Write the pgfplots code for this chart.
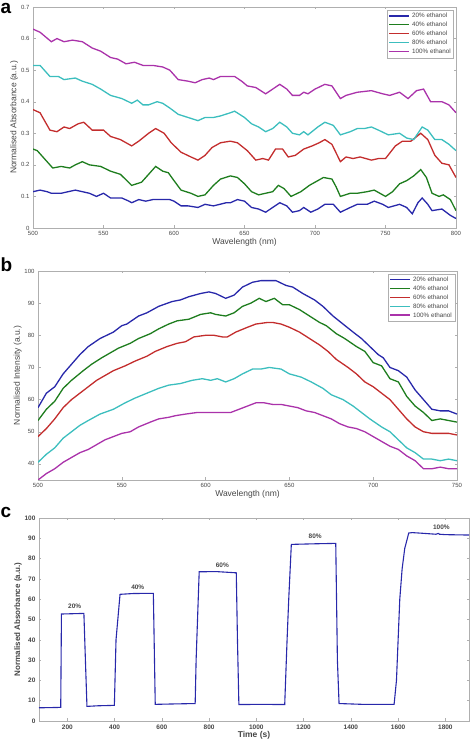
\documentclass[border=0pt]{standalone}
\usepackage{pgfplots}
\pgfplotsset{compat=1.18}
\usepackage{fontspec}
\setmainfont{Liberation Sans}
\definecolor{cB}{RGB}{40,40,170}
\definecolor{cG}{RGB}{30,125,30}
\definecolor{cR}{RGB}{195,45,45}
\definecolor{cC}{RGB}{60,190,190}
\definecolor{cM}{RGB}{170,50,170}
\definecolor{axg}{RGB}{175,175,175}
\definecolor{txg}{RGB}{70,70,70}
\pgfplotsset{
  base/.style={
    scale only axis,
    axis line style={axg},
    tick style={axg, thin},
    major tick length=2.5pt,
    tick align=inside,
    xtick pos=both, ytick pos=both,
    /pgf/number format/assume math mode=true,
    /pgf/number format/1000 sep={},
    tick label style={font=\fontsize{6}{7}\selectfont, text=txg},
    label style={font=\fontsize{8.5}{10}\selectfont, text=txg},
    every axis plot/.append style={line width=1.3pt},
    legend cell align=left,
    legend style={font=\fontsize{6.3}{7}\selectfont, draw=axg, inner sep=1pt, row sep=-1.2pt, text=txg},
    legend image code/.code={\draw[#1, line width=1.5pt] (0pt,0.5pt) -- (20pt,0.5pt);},
  }
}
\begin{document}
\begin{tikzpicture}[x=1pt,y=1pt]
\useasboundingbox (0,0) rectangle (472,741);
% ---------------- panel a
\begin{axis}[base, at={(33pt,513pt)}, anchor=south west, width=423pt, height=221pt,
  xmin=500, xmax=800, ymin=0, ymax=0.7,
  xtick={500,550,...,800}, ytick={0,0.1,...,0.7},
  yticklabel style={/pgf/number format/fixed, /pgf/number format/precision=1},
  xlabel={Wavelength (nm)}, ylabel={Normalised Absorbance (a.u.)},
  xlabel style={yshift=4pt}, ylabel style={yshift=-4pt},
  legend style={at={(0.995,0.986)}, anchor=north east}]
\addplot[cB] coordinates {(500,0.115)(505,0.12)(510,0.115)(513,0.11)(520,0.11)(525,0.115)(530,0.12)(535,0.115)(540,0.11)(545,0.10)(550,0.11)(555,0.095)(563,0.095)(568,0.085)(570,0.08)(575,0.09)(580,0.085)(585,0.09)(597,0.09)(600,0.085)(605,0.07)(610,0.07)(617,0.065)(622,0.075)(628,0.07)(637,0.08)(640,0.08)(645,0.09)(650,0.085)(655,0.065)(660,0.06)(665,0.05)(670,0.065)(675,0.08)(680,0.07)(684,0.05)(689,0.055)(692,0.065)(697,0.05)(702,0.06)(707,0.075)(713,0.075)(718,0.05)(725,0.065)(730,0.075)(737,0.075)(742,0.085)(748,0.075)(752,0.065)(760,0.075)(765,0.065)(769,0.045)(773,0.08)(776,0.095)(780,0.075)(783,0.055)(790,0.06)(796,0.04)(800,0.03)};
\addlegendentry{20\% ethanol}
\addplot[cG] coordinates {(500,0.25)(503,0.245)(510,0.21)(514,0.19)(520,0.195)(526,0.19)(530,0.20)(535,0.21)(540,0.20)(548,0.195)(555,0.18)(562,0.17)(570,0.135)(577,0.145)(582,0.17)(587,0.195)(592,0.18)(596,0.175)(600,0.15)(605,0.12)(612,0.11)(617,0.10)(622,0.105)(628,0.135)(633,0.155)(640,0.165)(645,0.16)(650,0.14)(655,0.115)(660,0.105)(665,0.11)(670,0.115)(674,0.135)(678,0.125)(683,0.10)(690,0.115)(696,0.135)(702,0.15)(706,0.16)(712,0.155)(715,0.13)(718,0.10)(725,0.11)(730,0.11)(737,0.115)(742,0.12)(750,0.10)(755,0.115)(760,0.14)(765,0.15)(770,0.165)(775,0.185)(779,0.16)(783,0.11)(788,0.10)(791,0.105)(796,0.09)(800,0.055)};
\addlegendentry{40\% ethanol}
\addplot[cR] coordinates {(500,0.375)(505,0.365)(512,0.31)(517,0.305)(522,0.32)(526,0.315)(532,0.33)(536,0.335)(542,0.31)(550,0.31)(555,0.29)(562,0.28)(570,0.26)(575,0.275)(582,0.30)(587,0.315)(593,0.30)(598,0.27)(605,0.24)(612,0.225)(617,0.215)(622,0.23)(627,0.255)(633,0.27)(640,0.275)(645,0.27)(652,0.245)(658,0.215)(663,0.22)(667,0.215)(672,0.25)(677,0.25)(681,0.225)(686,0.23)(692,0.25)(698,0.26)(703,0.27)(707,0.28)(712,0.265)(718,0.21)(722,0.225)(727,0.22)(732,0.225)(740,0.215)(745,0.22)(750,0.22)(757,0.26)(762,0.275)(768,0.275)(775,0.30)(780,0.28)(785,0.23)(790,0.205)(795,0.20)(800,0.16)};
\addlegendentry{60\% ethanol}
\addplot[cC] coordinates {(500,0.515)(505,0.515)(512,0.48)(518,0.48)(522,0.47)(530,0.475)(535,0.465)(542,0.455)(548,0.44)(555,0.42)(563,0.41)(570,0.395)(574,0.405)(578,0.39)(582,0.39)(588,0.40)(592,0.395)(597,0.38)(603,0.36)(610,0.35)(617,0.34)(622,0.35)(628,0.35)(633,0.355)(640,0.365)(643,0.37)(650,0.35)(655,0.33)(660,0.32)(665,0.305)(670,0.315)(675,0.335)(680,0.32)(684,0.30)(689,0.295)(692,0.305)(695,0.295)(702,0.32)(707,0.335)(713,0.325)(718,0.295)(725,0.305)(730,0.315)(735,0.315)(740,0.32)(745,0.31)(752,0.295)(760,0.30)(765,0.285)(770,0.28)(776,0.32)(780,0.31)(785,0.28)(790,0.28)(795,0.265)(800,0.245)};
\addlegendentry{80\% ethanol}
\addplot[cM] coordinates {(500,0.63)(505,0.62)(513,0.59)(517,0.60)(522,0.59)(528,0.595)(535,0.59)(542,0.57)(548,0.56)(555,0.54)(560,0.535)(566,0.52)(572,0.525)(578,0.515)(585,0.515)(592,0.51)(597,0.50)(603,0.47)(610,0.465)(615,0.46)(620,0.47)(625,0.475)(628,0.47)(633,0.48)(643,0.48)(648,0.465)(652,0.45)(658,0.445)(665,0.425)(670,0.44)(675,0.455)(680,0.44)(684,0.42)(689,0.42)(692,0.43)(695,0.425)(700,0.44)(707,0.455)(712,0.45)(718,0.41)(722,0.42)(730,0.43)(740,0.435)(748,0.425)(753,0.42)(760,0.43)(766,0.41)(772,0.435)(777,0.44)(782,0.40)(790,0.40)(795,0.39)(800,0.365)};
\addlegendentry{100\% ethanol}
\end{axis}
% ---------------- panel b
\begin{axis}[base, at={(38pt,261pt)}, anchor=south west, width=419pt, height=209pt,
  xmin=500, xmax=750, ymin=35, ymax=100,
  xtick={500,550,...,750}, ytick={40,50,...,100},
  xlabel={Wavelength (nm)}, ylabel={Normalised Intensity (a.u.)},
  xlabel style={yshift=4pt}, ylabel style={yshift=-4pt},
  legend style={at={(0.995,0.986)}, anchor=north east}]
\addplot[cB] coordinates {(500,57.5)(505,62)(510,64)(515,68)(520,71)(525,74)(530,76.5)(537,79)(545,81)(550,83)(553,83.5)(560,86)(565,87)(572,89)(580,90.5)(585,91)(590,92)(597,93)(602,93.5)(606,93)(612,91.5)(617,92.5)(622,95)(628,96.5)(633,97)(638,97)(642,97)(648,95.5)(652,95)(658,93)(665,91)(670,89)(676,86)(682,83.5)(688,81)(693,79)(698,76.5)(703,74)(706,73)(710,70)(715,69)(720,67)(725,63)(730,60)(735,57)(740,56.5)(745,56.5)(750,55.5)};
\addlegendentry{20\% ethanol}
\addplot[cG] coordinates {(500,53.5)(505,57)(510,59.5)(515,63.5)(520,66)(527,69)(532,71)(538,73)(543,74.5)(548,76)(555,77.5)(560,79)(567,80.5)(572,82)(578,83.5)(583,84.5)(590,85)(597,86.5)(603,87)(606,86.5)(612,86)(617,87)(622,89)(627,90)(632,91.5)(636,90.5)(641,91.5)(646,89.5)(650,89.5)(656,88)(662,86)(668,84)(672,83)(678,80.5)(683,79)(690,76.5)(695,75)(700,71.5)(705,70.5)(710,66.5)(715,65.5)(720,61)(725,58)(730,56)(735,53.5)(740,54)(745,53.5)(750,53)};
\addlegendentry{40\% ethanol}
\addplot[cR] coordinates {(500,48.5)(505,51)(510,54)(515,57.5)(520,60)(525,62)(530,64)(535,66)(540,67.5)(545,69)(552,70.5)(558,72)(565,73.5)(570,75)(577,76.5)(583,77.5)(588,78)(593,79.5)(600,80)(605,80)(610,79.5)(613,79.5)(618,81)(625,82.5)(630,83.5)(637,84)(640,84)(645,83.5)(650,82.5)(656,81)(662,79)(668,77)(673,75)(678,72.5)(685,70)(690,68)(695,65.5)(700,64)(705,62)(710,60)(715,57)(720,54)(725,51.5)(730,50)(735,49.5)(740,49.5)(745,49.5)(750,49)};
\addlegendentry{60\% ethanol}
\addplot[cC] coordinates {(500,40.5)(505,43)(510,45)(515,48)(520,50)(525,52)(530,53.5)(537,55.5)(545,57)(552,59)(558,60.5)(565,62)(572,63.5)(578,64.5)(585,65)(592,66)(598,66.5)(603,66)(607,66.5)(612,65.5)(617,66.5)(622,68)(628,69.5)(633,69.5)(638,70)(645,69.5)(650,68)(657,67)(663,65.5)(670,63.5)(675,61.5)(682,60)(688,58)(693,56)(698,54)(705,51.5)(710,50)(715,47.5)(720,45)(725,43.5)(730,41.5)(735,41.5)(740,41)(745,41.5)(750,41)};
\addlegendentry{80\% ethanol}
\addplot[cM] coordinates {(500,35)(505,37)(510,38.5)(515,40.5)(520,42)(525,43.5)(530,44.5)(535,46)(540,47.5)(545,48.5)(550,49.5)(555,50)(560,51.5)(567,53)(572,54)(578,54.5)(582,55)(588,55.5)(595,56)(600,56)(605,56)(610,56)(615,56)(620,57)(625,58)(630,59)(635,59)(640,58.5)(645,58.5)(650,58)(655,57.5)(660,56.5)(665,56)(670,55)(675,54)(680,52.5)(685,51.5)(690,51)(695,50)(700,48.5)(705,47)(710,45.5)(715,44.5)(720,42.5)(725,41)(730,38.5)(735,38.5)(740,39)(745,38.5)(750,38.5)};
\addlegendentry{100\% ethanol}
\end{axis}
% ---------------- panel c
\begin{axis}[base, at={(39pt,20pt)}, anchor=south west, width=430pt, height=203pt,
  xmin=80, xmax=1900, ymin=0, ymax=100,
  xtick={200,400,...,1800}, ytick={0,10,...,100},
  tick label style={font=\bfseries\fontsize{6.5}{7}\selectfont, text=txg},
  xlabel={\bfseries Time (s)}, ylabel={\bfseries Normalised Absorbance (a.u.)},
  xlabel style={yshift=5pt, font=\fontsize{8.5}{10}\selectfont},
  ylabel style={yshift=-4pt, font=\fontsize{8}{10}\selectfont}]
\addplot[cB, line width=1.1pt] coordinates {(80,6.5)(172,6.7)(175,52.7)(270,53)(277,28)(283,7.2)(330,7.5)(399,7.7)(406,40)(423,62.4)(480,62.8)(564,62.9)(572,8.2)(650,8.4)(741,8.6)(745,30)(758,73.5)(830,73.6)(915,73)(920,40)(926,8.1)(1020,8.2)(1120,8.1)(1130,40)(1137,60)(1148,87)(1250,87.3)(1336,87.5)(1343,30)(1350,8.6)(1450,8.2)(1583,8.2)(1593,20)(1607,60)(1617,75)(1628,85)(1645,92.6)(1660,92.8)(1700,92.5)(1760,92)(1770,92.4)(1775,92)(1800,91.8)(1900,91.6)};
\node[font=\bfseries\fontsize{6.5}{7}\selectfont, text=txg] at (axis cs:231,56.5) {20\%};
\node[font=\bfseries\fontsize{6.5}{7}\selectfont, text=txg] at (axis cs:498,66) {40\%};
\node[font=\bfseries\fontsize{6.5}{7}\selectfont, text=txg] at (axis cs:856,76.6) {60\%};
\node[font=\bfseries\fontsize{6.5}{7}\selectfont, text=txg] at (axis cs:1249,90.8) {80\%};
\node[font=\bfseries\fontsize{6.5}{7}\selectfont, text=txg] at (axis cs:1783,95.6) {100\%};
\end{axis}
\node[font=\bfseries\fontsize{19}{20}\selectfont, anchor=base west, inner sep=0pt] at (0.5,727) {a};
\node[font=\bfseries\fontsize{19}{20}\selectfont, anchor=base west, inner sep=0pt] at (0.5,469) {b};
\node[font=\bfseries\fontsize{19}{20}\selectfont, anchor=base west, inner sep=0pt] at (0.5,223) {c};
\end{tikzpicture}
\end{document}
